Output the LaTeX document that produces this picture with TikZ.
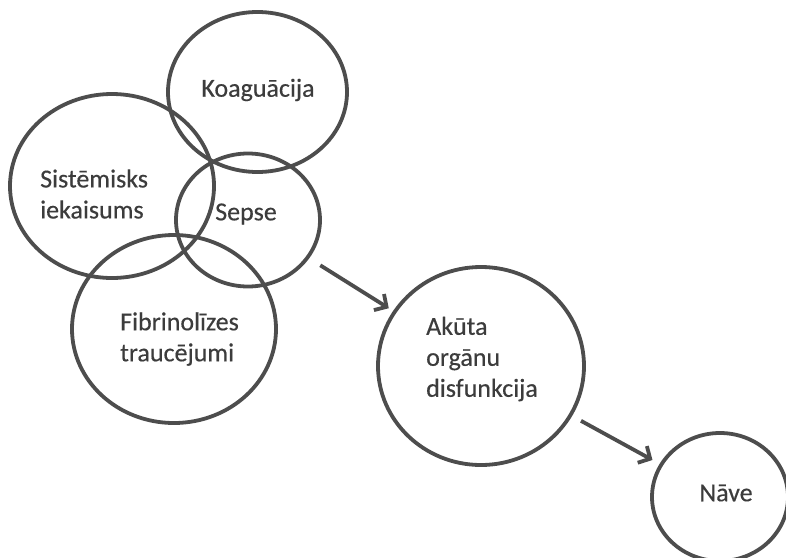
\documentclass[tikz,border=0pt]{standalone}
\usepackage{fontspec}
\setmainfont{Carlito}
\newfontfamily\blobfont[FakeBold=0.4]{Carlito}
\usetikzlibrary{arrows.meta,shapes.geometric}
\definecolor{lineGray}{RGB}{77,77,77}
\definecolor{textGray}{RGB}{60,60,60}
\tikzstyle{blob}=[ellipse,draw=lineGray,line width=3.8pt,inner sep=0pt,outer sep=0pt]
\tikzstyle{blob text}=[text=textGray,font=\blobfont\fontsize{26}{31}\selectfont,align=left,inner sep=0pt]
\tikzstyle{link}=[draw=lineGray,line width=3.8pt,-{Straight Barb[length=9pt,width=19pt]}]

\begin{document}
\begin{tikzpicture}[x=1pt,y=-1pt]
    \useasboundingbox (0,0) rectangle (786,557);
    % First the ellipses
    \foreach \pos/\name/\w/\h in {{(257.5,92)/koag/179/160}, {(112,186)/sist/204/184}, {(248,220)/sepse/144/133}, {(174,329)/fibr/204/188}, {(481,366)/akuta/206/198}, {(720,497)/nave/136/128}}
        \node[blob, minimum width=\w pt, minimum height=\h pt] (\name) at \pos {};

    % Then the texts inside them
    \foreach \pos/\name/\anc/\txt in {{(258,90)/koag text/center/Koaguācija}, {(40,194)/sist text/west/{Sistēmisks\\iekaisums}}, {(246,214)/sepse text/center/Sepse}, {(120,339)/fibr text/west/{Fibrinolīzes\\traucējumi}}, {(426,359)/akuta text/west/{Akūta\\orgānu\\disfunkcija}}, {(726,493)/nave text/center/Nāve}}
        \node[blob text, anchor=\anc] (\name) at \pos {\txt};

    % Arrows between the ellipses
    \path[link, shorten <=15pt, shorten >=7pt] (sepse) -- (akuta);
    \path[link, shorten <=12pt, shorten >=10pt] (akuta) -- (nave);
\end{tikzpicture}
\end{document}
